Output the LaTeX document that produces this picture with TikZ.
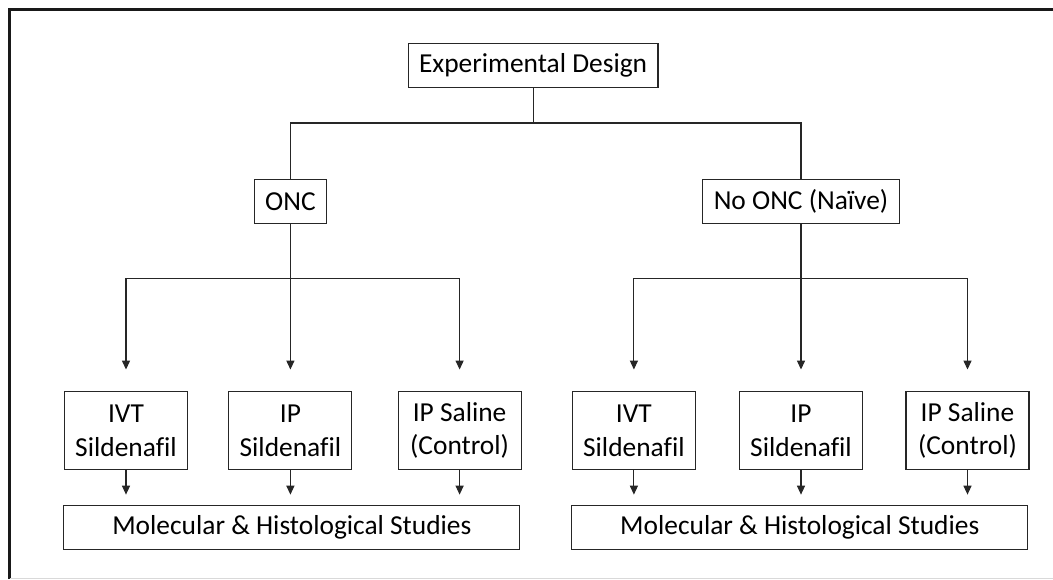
\documentclass[tikz,border=0pt]{standalone}
\usepackage{fontspec}
\setmainfont{Carlito}[Ligatures=NoCommon]
\usetikzlibrary{arrows.meta}

\tikzset{
  box/.style={draw=black!85, line width=1pt, align=center, inner xsep=0.36cm,
    minimum height=1.47cm, text=black},
  armbox/.style={box, inner xsep=0pt, minimum width=4.1cm, minimum height=2.57cm},
  link/.style={draw=black!85, line width=1pt},
  arrow/.style={link, -{Triangle[width=0.27cm, length=0.3cm]}},
}

\begin{document}
\begin{tikzpicture}[every node/.style={font=\fontsize{26}{32}\selectfont}]
  \useasboundingbox (0,0) rectangle (35.1,-19.3);

  % === Frame ===
  \draw[line width=2.8pt, black!90] (0.32,-19.3) -- (0.32,-0.32) -- (35.1,-0.32);
  \draw[line width=0.8pt, black!15] (0.32,-19.27) -- (35.1,-19.27);

  % === Top ===
  \node[box] (design) at (17.77,-2.17) {Experimental Design};
  \coordinate (fork) at (17.77,-4.1);

  % === Left branch: ONC ===
  \begin{scope}[name prefix=left-]
    \node[box] (group) at (9.68,-6.72) {ONC};
    \coordinate (split) at (0,-9.27);
    % Treatment arms
    \node[armbox] (ivt) at (4.2,-14.35) {IVT\\Sildenafil};
    \node[armbox] (ip) at (9.68,-14.35) {IP\\Sildenafil};
    \node[armbox] (saline) at (15.32,-14.35) {IP Saline\\(Control)};
    % Studies
    \node[box, minimum width=15.2cm] (study) at (9.73,-17.57)
      {Molecular \& Histological Studies};
    % Connectors
    \draw[link] (group) -- (group |- split);
    \draw[link] (ivt |- split) -- (saline |- split);
    \foreach \arm in {ivt,ip,saline} {
      \draw[arrow, shorten >=0.73cm] (\arm |- split) -- (\arm);
      \draw[arrow, shorten >=0.33cm] (\arm) -- (\arm |- study.north);
    }
  \end{scope}

  % === Right branch: No ONC ===
  \begin{scope}[shift={(16.93,0)}, name prefix=right-]
    \node[box] (group) at (9.77,-6.72) {No ONC (Naïve)};
    \coordinate (split) at (0,-9.27);
    % Treatment arms
    \node[armbox] (ivt) at (4.2,-14.35) {IVT\\Sildenafil};
    \node[armbox] (ip) at (9.77,-14.35) {IP\\Sildenafil};
    \node[armbox] (saline) at (15.32,-14.35) {IP Saline\\(Control)};
    % Studies
    \node[box, minimum width=15.2cm] (study) at (9.73,-17.57)
      {Molecular \& Histological Studies};
    % Connectors
    \draw[link] (group) -- (group |- split);
    \draw[link] (ivt |- split) -- (saline |- split);
    \foreach \arm in {ivt,ip,saline} {
      \draw[arrow, shorten >=0.73cm] (\arm |- split) -- (\arm);
      \draw[arrow, shorten >=0.33cm] (\arm) -- (\arm |- study.north);
    }
  \end{scope}

  % === Top fork ===
  \draw[link] (design) -- (fork);
  \draw[link] (left-group) |- (fork) -| (right-group);

\end{tikzpicture}
\end{document}
